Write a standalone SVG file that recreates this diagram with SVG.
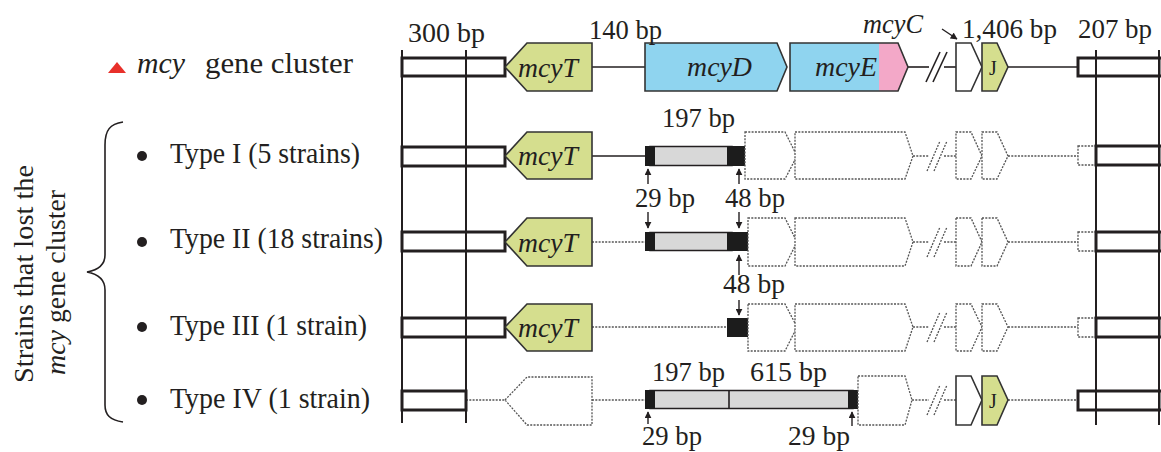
<svg xmlns="http://www.w3.org/2000/svg" width="1161" height="452" viewBox="0 0 1161 452">
<defs>
<style>
.t{font-family:"Liberation Serif","Times New Roman",serif;fill:#231f20}
.bp{font-size:27px}
.lab{font-size:29px}
.it{font-style:italic}
.sol{stroke:#231f20;stroke-width:1.6;fill:none}
.vl{stroke:#231f20;stroke-width:2;fill:none}
.dl{stroke:#555;stroke-width:1.3;stroke-dasharray:2 1.3;fill:none}
.dot{stroke:#555;stroke-width:1.3;stroke-dasharray:2 1.3;fill:#fff}
.gene{stroke:#333;stroke-width:1.6}
.green{fill:#d5de8e}
.blue{fill:#8fd4ef}
.pink{fill:#f3a8c8}
.wh{fill:#fff}
.box{fill:#fff;stroke:#231f20;stroke-width:3}
.blk{fill:#1c1c1c}
.gry{fill:#d8d8d8;stroke:#231f20;stroke-width:1.5}
.arr{stroke:#231f20;stroke-width:1.4;fill:none;marker-end:url(#ah)}
</style>
<marker id="ah" viewBox="0 0 10 10" refX="9" refY="5" markerWidth="7" markerHeight="7" markerUnits="userSpaceOnUse" orient="auto">
<path d="M0,0 L10,5 L0,10 z" fill="#231f20"/>
</marker>
</defs>
<rect width="1161" height="452" fill="#fff"/>

<!-- left labels -->
<g id="label-mcy">
<polygon points="108,73 117,62 126,73" fill="#e8302a"/>
<text class="t lab it" x="137" y="73" textLength="48" lengthAdjust="spacingAndGlyphs">mcy</text>
<text class="t lab" x="205" y="73" textLength="148" lengthAdjust="spacingAndGlyphs">gene cluster</text>
</g>
<g id="label-side">
<path class="sol" d="M123,122 C110,124 105,130 105,145 L105,255 C105,265 98,270 87,272 C98,274 105,279 105,290 L105,405 C105,415 110,420 123,422"/>
<text class="t" font-size="28" transform="translate(33,383) rotate(-90)" x="0" y="0" textLength="218" lengthAdjust="spacingAndGlyphs">Strains that lost the</text>
<g transform="translate(65,375) rotate(-90)">
<text class="t it" font-size="28" x="0" y="0" textLength="45" lengthAdjust="spacingAndGlyphs">mcy</text>
<text class="t" font-size="28" x="52" y="0" textLength="133" lengthAdjust="spacingAndGlyphs">gene cluster</text>
</g>
</g>
<g id="label-types">
<circle cx="142" cy="156" r="5" fill="#231f20"/>
<text class="t lab" x="170" y="163" textLength="190" lengthAdjust="spacingAndGlyphs">Type I (5 strains)</text>
<circle cx="142" cy="242" r="5" fill="#231f20"/>
<text class="t lab" x="170" y="248" textLength="213" lengthAdjust="spacingAndGlyphs">Type II (18 strains)</text>
<circle cx="142" cy="327" r="5" fill="#231f20"/>
<text class="t lab" x="170" y="335" textLength="197" lengthAdjust="spacingAndGlyphs">Type III (1 strain)</text>
<circle cx="142" cy="400" r="5" fill="#231f20"/>
<text class="t lab" x="170" y="408" textLength="200" lengthAdjust="spacingAndGlyphs">Type IV (1 strain)</text>
</g>

<!-- connectors / lines -->
<g id="connectors">
<!-- row 0 -->
<line class="sol" x1="592" y1="67" x2="645" y2="67"/>
<line class="sol" x1="908" y1="67" x2="929" y2="67"/>
<line class="sol" x1="944" y1="67" x2="956" y2="67"/>
<line class="sol" x1="926" y1="82" x2="940" y2="52"/>
<line class="sol" x1="933" y1="82" x2="947" y2="52"/>
<line class="sol" x1="1008" y1="67" x2="1078" y2="67"/>
<!-- row I -->
<line class="sol" x1="592" y1="156" x2="645" y2="156" stroke-width="1.3"/>
<line class="dl" x1="913" y1="156" x2="929" y2="156"/>
<line class="dl" x1="944" y1="156" x2="956" y2="156"/>
<line class="dl" x1="927" y1="171" x2="940" y2="141"/>
<line class="dl" x1="934" y1="171" x2="947" y2="141"/>
<line class="dl" x1="1008" y1="156" x2="1078" y2="156"/>
<!-- row II -->
<line class="dl" x1="592" y1="242" x2="645" y2="242"/>
<line class="dl" x1="913" y1="242" x2="929" y2="242"/>
<line class="dl" x1="944" y1="242" x2="956" y2="242"/>
<line class="dl" x1="927" y1="257" x2="940" y2="227"/>
<line class="dl" x1="934" y1="257" x2="947" y2="227"/>
<line class="dl" x1="1008" y1="242" x2="1078" y2="242"/>
<!-- row III -->
<line class="dl" x1="592" y1="327" x2="727" y2="327"/>
<line class="dl" x1="913" y1="327" x2="929" y2="327"/>
<line class="dl" x1="944" y1="327" x2="956" y2="327"/>
<line class="dl" x1="927" y1="342" x2="940" y2="312"/>
<line class="dl" x1="934" y1="342" x2="947" y2="312"/>
<line class="dl" x1="1008" y1="327" x2="1078" y2="327"/>
<!-- row IV -->
<line class="dl" x1="466" y1="400" x2="505" y2="400"/>
<line class="dl" x1="592" y1="400" x2="645" y2="400"/>
<line class="dl" x1="912" y1="400" x2="929" y2="400"/>
<line class="dl" x1="944" y1="400" x2="956" y2="400"/>
<line class="dl" x1="927" y1="415" x2="940" y2="385"/>
<line class="dl" x1="934" y1="415" x2="947" y2="385"/>
<line class="dl" x1="1008" y1="400" x2="1078" y2="400"/>
</g>

<!-- left flanking boxes -->
<g id="left-flank">
<rect class="box" x="402" y="58" width="103" height="18"/>
<rect class="box" x="402" y="147" width="103" height="19"/>
<rect class="box" x="402" y="232" width="103" height="19"/>
<rect class="box" x="402" y="318" width="103" height="19"/>
<rect class="box" x="402" y="391" width="64" height="19"/>
</g>
<!-- right flanking boxes -->
<g id="right-flank">
<rect class="box" x="1078" y="58" width="84" height="18"/>
<rect class="dot" x="1078" y="146" width="18" height="19"/>
<rect class="box" x="1096" y="146" width="66" height="19"/>
<rect class="dot" x="1078" y="232" width="18" height="19"/>
<rect class="box" x="1096" y="232" width="66" height="19"/>
<rect class="dot" x="1078" y="318" width="18" height="19"/>
<rect class="box" x="1096" y="318" width="66" height="19"/>
<rect class="box" x="1078" y="391" width="84" height="19"/>
</g>
<g id="guides">
<line class="vl" x1="402" y1="50" x2="402" y2="423"/>
<line class="vl" x1="466" y1="50" x2="466" y2="423"/>
<line class="vl" x1="1096" y1="50" x2="1096" y2="425"/>
<line class="vl" x1="1159" y1="50" x2="1159" y2="425"/>
</g>

<!-- row 0: mcy gene cluster -->
<g id="row0-mcyT">
<polygon class="gene green" points="505,67 527,43 592,43 592,91 527,91"/>
<text class="t bp it" x="518" y="77" textLength="60" lengthAdjust="spacingAndGlyphs">mcyT</text>
</g>
<g id="row0-mcyD">
<polygon class="gene blue" points="645,43 777,43 787,67 777,91 645,91"/>
<text class="t bp it" x="687" y="76" textLength="65" lengthAdjust="spacingAndGlyphs">mcyD</text>
</g>
<g id="row0-mcyE">
<rect class="blue" x="790" y="43" width="89" height="48"/>
<polygon class="pink" points="879,43 898,43 908,67 898,91 879,91"/>
<polygon class="gene" fill="none" points="790,43 898,43 908,67 898,91 790,91"/>
<text class="t bp it" x="815" y="76" textLength="62" lengthAdjust="spacingAndGlyphs">mcyE</text>
</g>
<g id="row0-mcyC">
<polygon class="gene wh" points="956,43 971,43 982,67 971,91 956,91"/>
</g>
<g id="row0-mcyJ">
<polygon class="gene green" points="982,43 997,43 1008,67 997,91 982,91"/>
<text class="t" font-size="20" x="993" y="75" text-anchor="middle">J</text>
</g>
<g id="row0-labels">
<text class="t bp" x="408" y="42" textLength="77" lengthAdjust="spacingAndGlyphs">300 bp</text>
<text class="t bp" x="589" y="39" textLength="73" lengthAdjust="spacingAndGlyphs">140 bp</text>
<text class="t bp it" x="863" y="33" textLength="60" lengthAdjust="spacingAndGlyphs">mcyC</text>
<line class="arr" x1="942" y1="29" x2="957" y2="39"/>
<text class="t bp" x="962" y="38" textLength="95" lengthAdjust="spacingAndGlyphs">1,406 bp</text>
<text class="t bp" x="1078" y="38" textLength="74" lengthAdjust="spacingAndGlyphs">207 bp</text>
</g>

<!-- row I -->
<g id="row1-mcyT">
<polygon class="gene green" points="505,156 527,132 592,132 592,179 527,179"/>
<text class="t bp it" x="518" y="165" textLength="60" lengthAdjust="spacingAndGlyphs">mcyT</text>
</g>
<g id="row1-insert">
<rect class="gry" x="650" y="146.5" width="82" height="19"/>
<rect class="blk" x="645" y="146" width="10" height="20"/>
<rect class="blk" x="727" y="146" width="18" height="20"/>
<text class="t bp" x="662" y="127" textLength="73" lengthAdjust="spacingAndGlyphs">197 bp</text>
</g>
<g id="row1-lost">
<polygon class="dot" points="745,132 785,132 797,156 785,179 745,179"/>
<polygon class="dot" points="795,132 905,132 913,156 905,179 795,179"/>
<polygon class="dot" points="956,132 971,132 982,156 971,179 956,179"/>
<polygon class="dot" points="982,132 997,132 1008,156 997,179 982,179"/>
</g>
<g id="row1-2-labels">
<line class="arr" x1="648" y1="184" x2="648" y2="169"/>
<line class="arr" x1="739" y1="184" x2="739" y2="169"/>
<text class="t bp" x="635" y="207" textLength="60" lengthAdjust="spacingAndGlyphs">29 bp</text>
<text class="t bp" x="725" y="207" textLength="60" lengthAdjust="spacingAndGlyphs">48 bp</text>
<line class="arr" x1="648" y1="212" x2="648" y2="228"/>
<line class="arr" x1="739" y1="212" x2="739" y2="228"/>
</g>

<!-- row II -->
<g id="row2-mcyT">
<polygon class="gene green" points="505,242 527,218 592,218 592,266 527,266"/>
<text class="t bp it" x="518" y="252" textLength="60" lengthAdjust="spacingAndGlyphs">mcyT</text>
</g>
<g id="row2-insert">
<rect class="gry" x="650" y="232.5" width="82" height="18"/>
<rect class="blk" x="645" y="232" width="10" height="19"/>
<rect class="blk" x="727" y="232" width="21" height="19"/>
</g>
<g id="row2-lost">
<polygon class="dot" points="748,218 785,218 797,242 785,266 748,266"/>
<polygon class="dot" points="795,218 905,218 913,242 905,266 795,266"/>
<polygon class="dot" points="956,218 971,218 982,242 971,266 956,266"/>
<polygon class="dot" points="982,218 997,218 1008,242 997,266 982,266"/>
</g>
<g id="row2-3-labels">
<line class="arr" x1="739" y1="275" x2="739" y2="255"/>
<text class="t bp" x="723" y="293" textLength="62" lengthAdjust="spacingAndGlyphs">48 bp</text>
<line class="arr" x1="739" y1="300" x2="739" y2="315"/>
</g>

<!-- row III -->
<g id="row3-mcyT">
<polygon class="gene green" points="505,327 527,304 592,304 592,351 527,351"/>
<text class="t bp it" x="518" y="337" textLength="60" lengthAdjust="spacingAndGlyphs">mcyT</text>
</g>
<g id="row3-insert">
<rect class="blk" x="727" y="318" width="21" height="19"/>
</g>
<g id="row3-lost">
<polygon class="dot" points="748,304 785,304 797,327 785,351 748,351"/>
<polygon class="dot" points="795,304 905,304 913,327 905,351 795,351"/>
<polygon class="dot" points="956,304 971,304 982,327 971,351 956,351"/>
<polygon class="dot" points="982,304 997,304 1008,327 997,351 982,351"/>
</g>

<!-- row IV -->
<g id="row4-mcyT">
<polygon class="dot" points="505,400 527,377 592,377 592,425 527,425"/>
</g>
<g id="row4-insert">
<rect class="gry" x="650" y="390.5" width="203" height="18"/>
<line class="sol" x1="729" y1="391" x2="729" y2="408" stroke-width="1.3"/>
<rect class="blk" x="645" y="390" width="10" height="19"/>
<rect class="blk" x="848" y="390" width="10" height="19"/>
<text class="t bp" x="652" y="381" textLength="73" lengthAdjust="spacingAndGlyphs">197 bp</text>
<text class="t bp" x="750" y="381" textLength="77" lengthAdjust="spacingAndGlyphs">615 bp</text>
<line class="arr" x1="648" y1="424" x2="648" y2="412"/>
<text class="t bp" x="642" y="445" textLength="60" lengthAdjust="spacingAndGlyphs">29 bp</text>
<line class="arr" x1="852" y1="426" x2="852" y2="412"/>
<text class="t bp" x="788" y="445" textLength="62" lengthAdjust="spacingAndGlyphs">29 bp</text>
</g>
<g id="row4-lost">
<polygon class="dot" points="858,376 905,376 912,400 905,425 858,425"/>
</g>
<g id="row4-mcyC">
<polygon class="gene wh" points="956,376 971,376 982,400 971,425 956,425"/>
</g>
<g id="row4-mcyJ">
<polygon class="gene green" points="982,376 997,376 1008,400 997,425 982,425"/>
<text class="t" font-size="20" x="993" y="408" text-anchor="middle">J</text>
</g>
</svg>
